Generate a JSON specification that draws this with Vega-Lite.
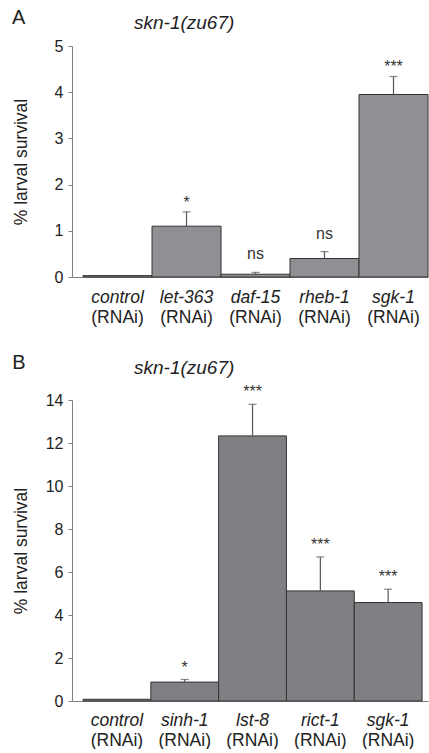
{
  "$schema": "https://vega.github.io/schema/vega-lite/v6.json",
  "padding": {"left": 12, "top": 8, "right": 2, "bottom": 0},
  "spacing": 27,
  "config": {
    "font": "Liberation Sans",
    "view": {"stroke": null},
    "axis": {
      "labelFont": "Liberation Sans",
      "titleFont": "Liberation Sans",
      "labelColor": "#222",
      "titleColor": "#222",
      "domainColor": "#808080",
      "tickColor": "#808080",
      "grid": false,
      "labelFontSize": 16,
      "titleFontSize": 17.5,
      "titleFontWeight": "normal"
    },
    "title": {"font": "Liberation Sans", "fontWeight": "normal", "color": "#222"}
  },
  "datasets": {
    "a": [
      {"gene": "control", "value": 0.03, "hi": null, "sig": null},
      {"gene": "let-363", "value": 1.10, "hi": 1.41, "sig": "*"},
      {"gene": "daf-15", "value": 0.06, "hi": 0.10, "sig": "ns"},
      {"gene": "rheb-1", "value": 0.40, "hi": 0.55, "sig": "ns"},
      {"gene": "sgk-1", "value": 3.95, "hi": 4.34, "sig": "***"}
    ],
    "b": [
      {"gene": "control", "value": 0.08, "hi": null, "sig": null},
      {"gene": "sinh-1", "value": 0.88, "hi": 1.0, "sig": "*"},
      {"gene": "lst-8", "value": 12.33, "hi": 13.8, "sig": "***"},
      {"gene": "rict-1", "value": 5.12, "hi": 6.7, "sig": "***"},
      {"gene": "sgk-1", "value": 4.58, "hi": 5.2, "sig": "***"}
    ]
  },
  "vconcat": [
    {
      "title": {"text": "A", "anchor": "start", "frame": "bounds", "fontSize": 20, "offset": -14},
      "vconcat": [
        {
          "data": {"name": "a"},
          "width": 356,
          "height": 231,
          "title": {"text": "skn-1(zu67)", "anchor": "start", "frame": "group", "dx": 62, "fontSize": 19, "fontStyle": "italic", "offset": 5},
          "resolve": {"axis": {"x": "independent"}},
          "encoding": {
            "x": {"field": "gene", "type": "nominal", "sort": null,
              "scale": {"paddingInner": 0, "paddingOuter": 0.08, "align": 1}}
          },
          "layer": [
            {
              "mark": {"type": "bar", "color": "#909094", "stroke": "#333", "strokeWidth": 1},
              "encoding": {
                "x": {"field": "gene", "type": "nominal", "sort": null,
                  "axis": {"orient": "bottom", "title": null, "labelAngle": 0, "ticks": false, "labelPadding": 11, "labelFontSize": 17.5, "labelFontStyle": "italic"}},
                "y": {"field": "value", "type": "quantitative",
                  "scale": {"domain": [0, 5], "nice": false},
                  "axis": {"title": "% larval survival", "values": [0, 1, 2, 3, 4, 5], "tickSize": 4, "labelPadding": 5, "titlePadding": 24}}
              }
            },
            {
              "transform": [{"filter": "datum.hi != null"}],
              "mark": {"type": "rule", "color": "#555", "strokeWidth": 1.2},
              "encoding": {
                "x": {"field": "gene", "type": "nominal", "sort": null, "axis": null},
                "y": {"field": "value", "type": "quantitative", "title": "% larval survival"},
                "y2": {"field": "hi"}
              }
            },
            {
              "transform": [{"filter": "datum.hi != null"}],
              "mark": {"type": "tick", "color": "#555", "size": 8, "thickness": 1.2},
              "encoding": {
                "x": {"field": "gene", "type": "nominal", "sort": null, "axis": null},
                "y": {"field": "hi", "type": "quantitative", "title": "% larval survival"}
              }
            },
            {
              "transform": [{"filter": "datum.sig != null && datum.sig != 'ns'"}],
              "mark": {"type": "text", "fontSize": 16, "color": "#333", "baseline": "bottom", "dy": -1},
              "encoding": {
                "x": {"field": "gene", "type": "nominal", "sort": null, "axis": null},
                "y": {"field": "hi", "type": "quantitative", "title": "% larval survival"},
                "text": {"field": "sig"}
              }
            },
            {
              "transform": [{"filter": "datum.sig == 'ns'"}],
              "mark": {"type": "text", "fontSize": 16, "color": "#333", "baseline": "bottom", "dy": -10},
              "encoding": {
                "x": {"field": "gene", "type": "nominal", "sort": null,
                  "axis": {"orient": "bottom", "title": null, "labelAngle": 0, "ticks": false, "domain": false, "labelPadding": 31, "labelFontSize": 17.5, "labelExpr": "'(RNAi)'"}},
                "y": {"field": "hi", "type": "quantitative", "title": "% larval survival"},
                "text": {"field": "sig"}
              }
            }
          ]
        }
      ]
    },
    {
      "title": {"text": "B", "anchor": "start", "frame": "bounds", "fontSize": 20, "offset": -14},
      "vconcat": [
        {
          "data": {"name": "b"},
          "width": 356,
          "height": 301,
          "title": {"text": "skn-1(zu67)", "anchor": "start", "frame": "group", "dx": 62, "fontSize": 19, "fontStyle": "italic", "offset": 6},
          "resolve": {"axis": {"x": "independent"}},
          "encoding": {
            "x": {"field": "gene", "type": "nominal", "sort": null,
              "scale": {"paddingInner": 0, "paddingOuter": 0.125, "align": 0.65}}
          },
          "layer": [
            {
              "mark": {"type": "bar", "color": "#808084", "stroke": "#333", "strokeWidth": 1},
              "encoding": {
                "x": {"field": "gene", "type": "nominal", "sort": null,
                  "axis": {"orient": "bottom", "title": null, "labelAngle": 0, "ticks": false, "labelPadding": 10, "labelFontSize": 17.5, "labelFontStyle": "italic"}},
                "y": {"field": "value", "type": "quantitative",
                  "scale": {"domain": [0, 14], "nice": false},
                  "axis": {"title": "% larval survival", "values": [0, 2, 4, 6, 8, 10, 12, 14], "tickSize": 4, "labelPadding": 5, "titlePadding": 15}}
              }
            },
            {
              "transform": [{"filter": "datum.hi != null"}],
              "mark": {"type": "rule", "color": "#555", "strokeWidth": 1.2},
              "encoding": {
                "x": {"field": "gene", "type": "nominal", "sort": null, "axis": null},
                "y": {"field": "value", "type": "quantitative", "title": "% larval survival"},
                "y2": {"field": "hi"}
              }
            },
            {
              "transform": [{"filter": "datum.hi != null"}],
              "mark": {"type": "tick", "color": "#555", "size": 8, "thickness": 1.2},
              "encoding": {
                "x": {"field": "gene", "type": "nominal", "sort": null, "axis": null},
                "y": {"field": "hi", "type": "quantitative", "title": "% larval survival"}
              }
            },
            {
              "transform": [{"filter": "datum.sig != null"}],
              "mark": {"type": "text", "fontSize": 16, "color": "#333", "baseline": "bottom", "dy": -4},
              "encoding": {
                "x": {"field": "gene", "type": "nominal", "sort": null,
                  "axis": {"orient": "bottom", "title": null, "labelAngle": 0, "ticks": false, "domain": false, "labelPadding": 30, "labelFontSize": 17.5, "labelExpr": "'(RNAi)'"}},
                "y": {"field": "hi", "type": "quantitative", "title": "% larval survival"},
                "text": {"field": "sig"}
              }
            }
          ]
        }
      ]
    }
  ]
}
